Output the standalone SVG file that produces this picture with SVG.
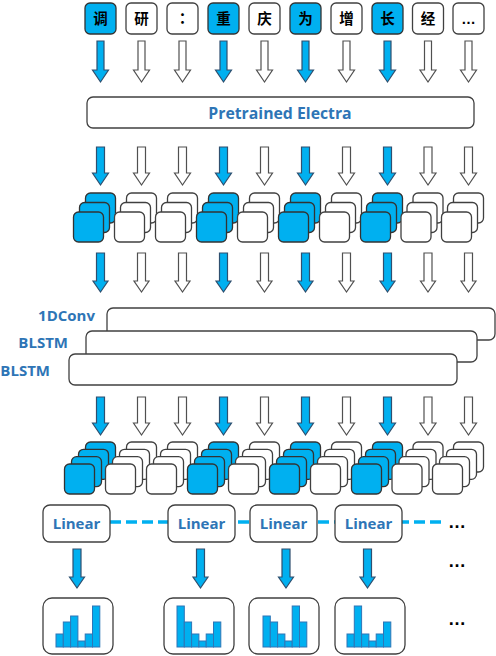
<svg xmlns="http://www.w3.org/2000/svg" width="496" height="656" viewBox="0 0 496 656">
<style>
.box{fill:#fff;stroke:#404040;stroke-width:1.3}
.bfill{fill:#00B0F0;stroke:#333;stroke-width:1.3}
.wfill{fill:#fff;stroke:#404040;stroke-width:1.3}
.ab{fill:#00B0F0;stroke:#2F4F6F;stroke-width:1.2}
.aw{fill:#fff;stroke:#505050;stroke-width:1.2}
.tok{font-family:"Noto Sans CJK SC","Noto Sans CJK TC",sans-serif;font-weight:bold;font-size:14.5px;fill:#000;text-anchor:middle}
.lbl{font-family:"Open Sans","Liberation Sans",sans-serif;font-weight:bold;font-size:15px;fill:#2E75B6}
.bar{fill:#00B0F0;stroke:#2E75B6;stroke-width:1}
.dots{font-family:"Liberation Sans",sans-serif;font-weight:bold;font-size:18px;fill:#000}
</style>
<defs>
<path id="arA" d="M-3.5,0 H3.5 V29 H8 L0,41 L-8,29 H-3.5 Z"/>
<path id="arB" d="M-4,0 H4 V26 H8 L0,38 L-8,26 H-4 Z"/>
<path id="arC" d="M-4,0 H4 V28 H7.5 L0,39 L-7.5,28 H-4 Z"/>
<rect id="card" width="30" height="30" rx="5"/>
</defs>

<g id="tokens">
<g id="tok1"><rect class="bfill" x="85" y="3" width="31" height="31" rx="5"/><text class="tok" x="100.5" y="23.5">调</text></g>
<g id="tok2"><rect class="box" x="126" y="3" width="31" height="31" rx="5"/><text class="tok" x="141.5" y="23.5">研</text></g>
<g id="tok3"><rect class="box" x="167" y="3" width="31" height="31" rx="5"/><text class="tok" x="182.5" y="23.5" style="font-family:'Noto Sans CJK TC',sans-serif">：</text></g>
<g id="tok4"><rect class="bfill" x="208" y="3" width="31" height="31" rx="5"/><text class="tok" x="223.5" y="23.5">重</text></g>
<g id="tok5"><rect class="box" x="249" y="3" width="31" height="31" rx="5"/><text class="tok" x="264.5" y="23.5">庆</text></g>
<g id="tok6"><rect class="bfill" x="290" y="3" width="31" height="31" rx="5"/><text class="tok" x="305.5" y="23.5">为</text></g>
<g id="tok7"><rect class="box" x="331" y="3" width="31" height="31" rx="5"/><text class="tok" x="346.5" y="23.5">增</text></g>
<g id="tok8"><rect class="bfill" x="372" y="3" width="31" height="31" rx="5"/><text class="tok" x="387.5" y="23.5">长</text></g>
<g id="tok9"><rect class="box" x="412.5" y="3" width="31" height="31" rx="5"/><text class="tok" x="428" y="23.5">经</text></g>
<g id="tok10"><rect class="box" x="453" y="3" width="31" height="31" rx="5"/><text class="tok" x="468.5" y="23.5" style="font-family:'Liberation Sans',sans-serif">…</text></g>
</g>

<g id="electra">
<rect class="box" x="87" y="97" width="387" height="31" rx="6"/>
<text class="lbl" x="280" y="119" text-anchor="middle" style="font-size:15.8px">Pretrained Electra</text>
</g>

<g id="emb1">
<use href="#card" class="bfill" x="85.5" y="193"/><use href="#card" class="bfill" x="79.5" y="202.5"/><use href="#card" class="bfill" x="73.5" y="212"/>
<use href="#card" class="wfill" x="126.5" y="193"/><use href="#card" class="wfill" x="120.5" y="202.5"/><use href="#card" class="wfill" x="114.5" y="212"/>
<use href="#card" class="wfill" x="167.5" y="193"/><use href="#card" class="wfill" x="161.5" y="202.5"/><use href="#card" class="wfill" x="155.5" y="212"/>
<use href="#card" class="bfill" x="208.5" y="193"/><use href="#card" class="bfill" x="202.5" y="202.5"/><use href="#card" class="bfill" x="196.5" y="212"/>
<use href="#card" class="wfill" x="249.5" y="193"/><use href="#card" class="wfill" x="243.5" y="202.5"/><use href="#card" class="wfill" x="237.5" y="212"/>
<use href="#card" class="bfill" x="290.5" y="193"/><use href="#card" class="bfill" x="284.5" y="202.5"/><use href="#card" class="bfill" x="278.5" y="212"/>
<use href="#card" class="wfill" x="331.5" y="193"/><use href="#card" class="wfill" x="325.5" y="202.5"/><use href="#card" class="wfill" x="319.5" y="212"/>
<use href="#card" class="bfill" x="372.5" y="193"/><use href="#card" class="bfill" x="366.5" y="202.5"/><use href="#card" class="bfill" x="360.5" y="212"/>
<use href="#card" class="wfill" x="413" y="193"/><use href="#card" class="wfill" x="407" y="202.5"/><use href="#card" class="wfill" x="401" y="212"/>
<use href="#card" class="wfill" x="453.5" y="193"/><use href="#card" class="wfill" x="447.5" y="202.5"/><use href="#card" class="wfill" x="441.5" y="212"/>
</g>

<g id="layers">
<g id="conv"><rect class="box" x="107" y="308" width="388" height="32" rx="6"/><text class="lbl" x="95" y="321" text-anchor="end">1DConv</text></g>
<g id="blstm1"><rect class="box" x="86" y="331" width="391" height="31" rx="6"/><text class="lbl" x="68" y="347.5" text-anchor="end">BLSTM</text></g>
<g id="blstm2"><rect class="box" x="69" y="354" width="388" height="31" rx="6"/><text class="lbl" x="50" y="376" text-anchor="end">BLSTM</text></g>
</g>

<g id="emb2">
<use href="#card" class="bfill" x="85.5" y="442"/><use href="#card" class="bfill" x="78.5" y="449.3"/><use href="#card" class="bfill" x="71.5" y="456.7"/><use href="#card" class="bfill" x="64.5" y="464"/>
<use href="#card" class="wfill" x="126.5" y="442"/><use href="#card" class="wfill" x="119.5" y="449.3"/><use href="#card" class="wfill" x="112.5" y="456.7"/><use href="#card" class="wfill" x="105.5" y="464"/>
<use href="#card" class="wfill" x="167.5" y="442"/><use href="#card" class="wfill" x="160.5" y="449.3"/><use href="#card" class="wfill" x="153.5" y="456.7"/><use href="#card" class="wfill" x="146.5" y="464"/>
<use href="#card" class="bfill" x="208.5" y="442"/><use href="#card" class="bfill" x="201.5" y="449.3"/><use href="#card" class="bfill" x="194.5" y="456.7"/><use href="#card" class="bfill" x="187.5" y="464"/>
<use href="#card" class="wfill" x="249.5" y="442"/><use href="#card" class="wfill" x="242.5" y="449.3"/><use href="#card" class="wfill" x="235.5" y="456.7"/><use href="#card" class="wfill" x="228.5" y="464"/>
<use href="#card" class="bfill" x="290.5" y="442"/><use href="#card" class="bfill" x="283.5" y="449.3"/><use href="#card" class="bfill" x="276.5" y="456.7"/><use href="#card" class="bfill" x="269.5" y="464"/>
<use href="#card" class="wfill" x="331.5" y="442"/><use href="#card" class="wfill" x="324.5" y="449.3"/><use href="#card" class="wfill" x="317.5" y="456.7"/><use href="#card" class="wfill" x="310.5" y="464"/>
<use href="#card" class="bfill" x="372.5" y="442"/><use href="#card" class="bfill" x="365.5" y="449.3"/><use href="#card" class="bfill" x="358.5" y="456.7"/><use href="#card" class="bfill" x="351.5" y="464"/>
<use href="#card" class="wfill" x="413" y="442"/><use href="#card" class="wfill" x="406" y="449.3"/><use href="#card" class="wfill" x="399" y="456.7"/><use href="#card" class="wfill" x="392" y="464"/>
<use href="#card" class="wfill" x="453.5" y="442"/><use href="#card" class="wfill" x="446.5" y="449.3"/><use href="#card" class="wfill" x="439.5" y="456.7"/><use href="#card" class="wfill" x="432.5" y="464"/>
</g>

<g id="connectors">
<line x1="110" y1="522" x2="443" y2="522" stroke="#00B0F0" stroke-width="3.5" stroke-dasharray="11 5"/>
<use href="#arA" class="ab" x="100.5" y="41"/><use href="#arA" class="aw" x="141.5" y="41"/><use href="#arA" class="aw" x="182.5" y="41"/><use href="#arA" class="ab" x="223.5" y="41"/><use href="#arA" class="aw" x="264.5" y="41"/><use href="#arA" class="ab" x="305.5" y="41"/><use href="#arA" class="aw" x="346.5" y="41"/><use href="#arA" class="ab" x="387.5" y="41"/><use href="#arA" class="aw" x="428" y="41"/><use href="#arA" class="aw" x="468.5" y="41"/>
<use href="#arB" class="ab" x="100.5" y="147"/><use href="#arB" class="aw" x="141.5" y="147"/><use href="#arB" class="aw" x="182.5" y="147"/><use href="#arB" class="ab" x="223.5" y="147"/><use href="#arB" class="aw" x="264.5" y="147"/><use href="#arB" class="ab" x="305.5" y="147"/><use href="#arB" class="aw" x="346.5" y="147"/><use href="#arB" class="ab" x="387.5" y="147"/><use href="#arB" class="aw" x="428" y="147"/><use href="#arB" class="aw" x="468.5" y="147"/>
<use href="#arC" class="ab" x="100.5" y="253"/><use href="#arC" class="aw" x="141.5" y="253"/><use href="#arC" class="aw" x="182.5" y="253"/><use href="#arC" class="ab" x="223.5" y="253"/><use href="#arC" class="aw" x="264.5" y="253"/><use href="#arC" class="ab" x="305.5" y="253"/><use href="#arC" class="aw" x="346.5" y="253"/><use href="#arC" class="ab" x="387.5" y="253"/><use href="#arC" class="aw" x="428" y="253"/><use href="#arC" class="aw" x="468.5" y="253"/>
<use href="#arB" class="ab" x="100.5" y="397"/><use href="#arB" class="aw" x="141.5" y="397"/><use href="#arB" class="aw" x="182.5" y="397"/><use href="#arB" class="ab" x="223.5" y="397"/><use href="#arB" class="aw" x="264.5" y="397"/><use href="#arB" class="ab" x="305.5" y="397"/><use href="#arB" class="aw" x="346.5" y="397"/><use href="#arB" class="ab" x="387.5" y="397"/><use href="#arB" class="aw" x="428" y="397"/><use href="#arB" class="aw" x="468.5" y="397"/>
<use href="#arC" class="ab" x="77" y="549"/><use href="#arC" class="ab" x="200.5" y="549"/><use href="#arC" class="ab" x="286" y="549"/><use href="#arC" class="ab" x="367.5" y="549"/>
</g>

<g id="linear1"><rect class="box" x="43" y="505" width="67" height="37" rx="7"/><text class="lbl" x="76.5" y="529" text-anchor="middle">Linear</text></g>
<g id="linear2"><rect class="box" x="168" y="505" width="67" height="37" rx="7"/><text class="lbl" x="201.5" y="529" text-anchor="middle">Linear</text></g>
<g id="linear3"><rect class="box" x="250" y="505" width="67" height="37" rx="7"/><text class="lbl" x="283.5" y="529" text-anchor="middle">Linear</text></g>
<g id="linear4"><rect class="box" x="335" y="505" width="67" height="37" rx="7"/><text class="lbl" x="368.5" y="529" text-anchor="middle">Linear</text></g>

<g id="hist1"><rect class="box" x="43" y="598" width="70" height="56" rx="9"/>
<rect class="bar" x="56" y="634" width="7.3" height="13"/><rect class="bar" x="63.3" y="622" width="7.3" height="25"/><rect class="bar" x="70.6" y="616" width="7.3" height="31"/><rect class="bar" x="77.9" y="641" width="7.3" height="6"/><rect class="bar" x="85.2" y="634" width="7.3" height="13"/><rect class="bar" x="92.5" y="606" width="7.3" height="41"/></g>
<g id="hist2"><rect class="box" x="164" y="598" width="70" height="56" rx="9"/>
<rect class="bar" x="177" y="606" width="7.3" height="41"/><rect class="bar" x="184.3" y="622" width="7.3" height="25"/><rect class="bar" x="191.6" y="634" width="7.3" height="13"/><rect class="bar" x="198.9" y="641" width="7.3" height="6"/><rect class="bar" x="206.2" y="634" width="7.3" height="13"/><rect class="bar" x="213.5" y="622" width="7.3" height="25"/></g>
<g id="hist3"><rect class="box" x="249" y="598" width="70" height="56" rx="9"/>
<rect class="bar" x="263" y="616" width="7.3" height="31"/><rect class="bar" x="270.3" y="622" width="7.3" height="25"/><rect class="bar" x="277.6" y="634" width="7.3" height="13"/><rect class="bar" x="284.9" y="641" width="7.3" height="6"/><rect class="bar" x="292.2" y="606" width="7.3" height="41"/><rect class="bar" x="299.5" y="622" width="7.3" height="25"/></g>
<g id="hist4"><rect class="box" x="335" y="598" width="70" height="56" rx="9"/>
<rect class="bar" x="347" y="634" width="7.3" height="13"/><rect class="bar" x="354.3" y="606" width="7.3" height="41"/><rect class="bar" x="361.6" y="634" width="7.3" height="13"/><rect class="bar" x="368.9" y="641" width="7.3" height="6"/><rect class="bar" x="376.2" y="634" width="7.3" height="13"/><rect class="bar" x="383.5" y="622" width="7.3" height="25"/></g>

<g id="ellipses">
<text class="dots" x="448" y="528">…</text>
<text class="dots" x="448" y="567">…</text>
<text class="dots" x="448" y="625">…</text>
</g>
</svg>
